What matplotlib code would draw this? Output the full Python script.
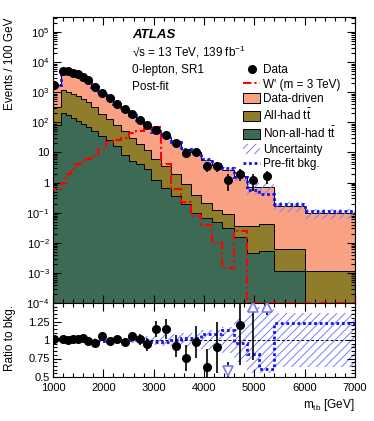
# -*- coding: utf-8 -*-
"""
m_tb distribution, 0-lepton SR1, post-fit, with ratio panel
"""

# %% Imports

import numpy as np
import matplotlib

matplotlib.use("Agg")
import matplotlib.pyplot as plt
from matplotlib.lines import Line2D
from matplotlib.patches import Patch
from matplotlib.ticker import (
    MultipleLocator,
    LogLocator,
    FixedLocator,
    FuncFormatter,
    NullFormatter,
)

plt.rcParams["font.family"] = ["Liberation Sans", "DejaVu Sans"]
plt.rcParams["mathtext.fontset"] = "custom"
plt.rcParams["mathtext.rm"] = "Liberation Sans"
plt.rcParams["mathtext.it"] = "Liberation Sans:italic"
plt.rcParams["mathtext.bf"] = "Liberation Sans:bold"
plt.rcParams["hatch.linewidth"] = 0.7

# %% Data (events / 100 GeV)

bin_edges = [900, 1150, 1250, 1350, 1450, 1550, 1650, 1750, 1900, 2050,
             2200, 2350, 2500, 2650, 2800, 2950, 3150, 3350, 3550, 3750,
             3950, 4150, 4350, 4600, 4850, 5100, 5400, 6000, 7000]

data_vals = [1700, 5000, 4900, 4500, 3900, 3200, 2500, 1450, 920, 630,
             420, 270, 185, 120, 80, 55, 38, 20, 9.5, 10,
             3.5, 3.5, 1.2, 2.0, 1.2, 1.67]

non_allhad_tt = [80, 200, 175, 145, 115, 90, 68, 50, 36, 25,
                 17, 8.5, 5.1, 4.2, 2.9, 1.26, 0.67, 0.37, 0.2, 0.095,
                 0.065, 0.05, 0.03, 0.016, 0.0045, 0.0055, 0.0012, 0.00005]

allhad_tt = [240, 950, 875, 755, 625, 500, 392, 270, 159, 100,
             63, 41.5, 24.9, 14.8, 9.1, 4.74, 2.93, 1.63, 0.70, 0.305,
             0.145, 0.070, 0.060, 0.021, 0.0305, 0.0365, 0.0050, 0.00112]

data_driven = [1363, 3780, 3850, 3555, 3121, 2517, 2065, 1190, 681, 518,
               336, 228, 146, 100, 73, 41.8, 29.4, 19.7, 11.7, 9.9,
               5.26, 3.77, 2.61, 1.63, 0.665, 0.648, 0.157, 0.094]

prefit_bkg = [1683, 4930, 4900, 4455, 3861, 3107, 2525, 1495, 867, 643,
              416, 278, 176, 119, 85, 46.4, 32, 21.7, 13.0, 10.6,
              5.9, 4.2, 3.08, 1.59, 0.567, 0.42, 0.2, 0.117]

rel_unc = [0.03, 0.02, 0.02, 0.02, 0.02, 0.025, 0.025, 0.03, 0.03, 0.035,
           0.035, 0.04, 0.045, 0.05, 0.055, 0.07, 0.075, 0.08, 0.1, 0.1,
           0.14, 0.14, 0.18, 0.3, 0.45, 0.45, 0.37, 0.37]

wprime = [0.6, 1.0, 1.9, 2.9, 4.2, 5.1, 6.0, 7.5, 13, 22,
          25, 30, 45, 52, 62, 68, 4.2, 0.6, 0.22, 0.075,
          0.039, 0.0098, 0.0015, 0.024, 0, 0, 0, 0]

# %% Style

c_dd = "#f9a283"
c_allhad = "#8f7d2b"
c_nonallhad = "#3c6a55"
c_unc = "#7a7aff"
c_prefit = "#1010ff"
c_wprime = "#ff0000"
ymin, ymax = 1e-4, 10 ** 5.5
fs = 8.5
tfs = 8


def log_label(val, pos):
    exp = int(round(np.log10(val)))
    if exp == 0:
        return "1"
    if exp == 1:
        return "10"
    return r"$10^{%d}$" % exp


def atlas_ticks(ax):
    ax.tick_params(which="both", direction="in", top=True, right=True,
                   labelsize=tfs)
    ax.tick_params(which="major", length=6, width=0.8)
    ax.tick_params(which="minor", length=3, width=0.8)
    ax.tick_params(axis="y", pad=2.5)


# %% Main

edges = np.array(bin_edges, dtype=float)
widths = np.diff(edges)
ndata = len(data_vals)
centers = 0.5 * (edges[:-1] + edges[1:])[:ndata]
data = np.array(data_vals)
counts = data * widths[:ndata] / 100
data_err = np.sqrt(counts) * 100 / widths[:ndata]

green = np.array(non_allhad_tt)
olive_top = green + np.array(allhad_tt)
total = olive_top + np.array(data_driven)
prefit = np.array(prefit_bkg)
unc = np.array(rel_unc)
wp = np.clip(np.array(wprime), ymin, None)

fig = plt.figure(figsize=(3.74, 4.21), dpi=100)
ax = fig.add_axes([53 / 374, 1 - 303 / 421, 302 / 374, 286 / 421])
rax = fig.add_axes([53 / 374, 1 - 377 / 421, 302 / 374, 74 / 421], sharex=ax)

# stacked backgrounds
ax.stairs(green, edges, baseline=1e-7, fill=True, color=c_nonallhad, zorder=1)
ax.stairs(olive_top, edges, baseline=green, fill=True, color=c_allhad, zorder=1)
ax.stairs(total, edges, baseline=olive_top, fill=True, color=c_dd, zorder=1)
for top in (green, olive_top, total):
    ax.stairs(top, edges, baseline=None, color="black", lw=0.7, zorder=2)

# uncertainty band
ax.stairs(total * (1 + unc), edges, baseline=total * (1 - unc), fill=True,
          facecolor="none", edgecolor=c_unc, hatch="////", lw=0, zorder=3)

# pre-fit and signal
ax.stairs(prefit, edges, baseline=None, color=c_prefit, lw=2,
          linestyle=(0, (1, 1)), zorder=4)
ax.stairs(wp, edges, baseline=None, color=c_wprime, lw=1.5,
          linestyle=(0, (4, 1.5, 1, 1.5)), zorder=5)

ax.errorbar(centers, data, yerr=data_err, fmt="o", color="black", ms=5.5,
            elinewidth=1.2, capsize=0, zorder=6)

ax.set_yscale("log")
ax.set_ylim(ymin, ymax)
ax.set_xlim(1000, 7000)
ax.yaxis.set_major_locator(LogLocator(base=10, numticks=20))
ax.yaxis.set_minor_locator(LogLocator(base=10, subs=np.arange(2, 10), numticks=20))
ax.yaxis.set_major_formatter(FuncFormatter(log_label))
ax.yaxis.set_minor_formatter(NullFormatter())
ax.xaxis.set_major_locator(MultipleLocator(1000))
ax.xaxis.set_minor_locator(MultipleLocator(200))
atlas_ticks(ax)
ax.tick_params(labelbottom=False)

# texts
ax.text(0.262, 0.937, "ATLAS", transform=ax.transAxes, fontsize=9.5,
        fontweight="bold", fontstyle="italic", va="center")
ax.text(0.262, 0.878, "\u221as = 13 TeV, 139 fb$^{-1}$", transform=ax.transAxes,
        fontsize=fs, va="center")
ax.text(0.262, 0.815, "0-lepton, SR1", transform=ax.transAxes, fontsize=fs,
        va="center")
ax.text(0.262, 0.755, "Post-fit", transform=ax.transAxes, fontsize=fs,
        va="center")

handles = [
    Line2D([], [], marker="o", color="black", ls="", ms=5.5),
    Line2D([], [], color=c_wprime, lw=1.5, linestyle=(0, (4, 1.5, 1, 1.5))),
    Patch(facecolor=c_dd, edgecolor="black", lw=0.7),
    Patch(facecolor=c_allhad, edgecolor="black", lw=0.7),
    Patch(facecolor=c_nonallhad, edgecolor="black", lw=0.7),
    Patch(facecolor="none", edgecolor=c_unc, hatch="////", lw=0),
    Line2D([], [], color=c_prefit, lw=2, linestyle=(0, (1, 1))),
]
labels = [
    "Data",
    "W' (m = 3 TeV)",
    "Data-driven",
    r"All-had $\mathrm{t\bar{t}}$",
    r"Non-all-had $\mathrm{t\bar{t}}$",
    "Uncertainty",
    "Pre-fit bkg.",
]
ax.legend(handles, labels, loc="upper left", bbox_to_anchor=(0.63, 0.835),
          frameon=False, fontsize=fs, handlelength=1.4, handleheight=0.9,
          handletextpad=0.3, labelspacing=0.22, borderaxespad=0, borderpad=0)

# %% Ratio panel

ratio = data / total[:ndata]
ratio_err = data_err / total[:ndata]

rax.stairs(1 + unc, edges, baseline=1 - unc, fill=True, facecolor="none",
           edgecolor=c_unc, hatch="////", lw=0, zorder=1)
rax.axhline(1, color="black", lw=0.7, ls=(0, (3, 2)), zorder=2)
rax.stairs(prefit / total, edges, baseline=None, color=c_prefit, lw=2,
           linestyle=(0, (1, 1)), zorder=3)

inside = (ratio >= 0.5) & (ratio <= 1.5)
rax.errorbar(centers[inside], ratio[inside], yerr=ratio_err[inside], fmt="o",
             color="black", ms=5.5, elinewidth=1.2, capsize=0, zorder=5)
rax.vlines(centers[~inside], ratio[~inside] - ratio_err[~inside],
           ratio[~inside] + ratio_err[~inside], color="black", lw=1.2, zorder=4)
up = ratio > 1.5
down = ratio < 0.5
rax.plot(centers[up], np.full(up.sum(), 1.44), ls="", marker="^", ms=7,
         mfc="white", mec=c_unc, mew=1.2, zorder=6)
rax.plot(centers[down], np.full(down.sum(), 0.58), ls="", marker="v", ms=7,
         mfc="white", mec=c_unc, mew=1.2, zorder=6)

rax.set_ylim(0.5, 1.5)
rax.set_xlim(1000, 7000)
rax.yaxis.set_major_locator(FixedLocator([0.5, 0.75, 1.0, 1.25]))
rax.yaxis.set_major_formatter(FuncFormatter(lambda v, p: "%g" % v))
rax.yaxis.set_minor_locator(MultipleLocator(0.05))
rax.xaxis.set_major_locator(MultipleLocator(1000))
rax.xaxis.set_minor_locator(MultipleLocator(200))
atlas_ticks(rax)
rax.tick_params(axis="x", pad=4)

fig.text(10 / 374, 1 - 18 / 421, "Events / 100 GeV", rotation=90, ha="center",
         va="top", fontsize=fs)
fig.text(10 / 374, 1 - 338 / 421, "Ratio to bkg.", rotation=90, ha="center",
         va="center", fontsize=fs)
fig.text(355 / 374, 1 - 405 / 421, r"m$_{\mathrm{tb}}$ [GeV]", ha="right",
         va="center", fontsize=fs)

fig.savefig("out.png", dpi=100)
